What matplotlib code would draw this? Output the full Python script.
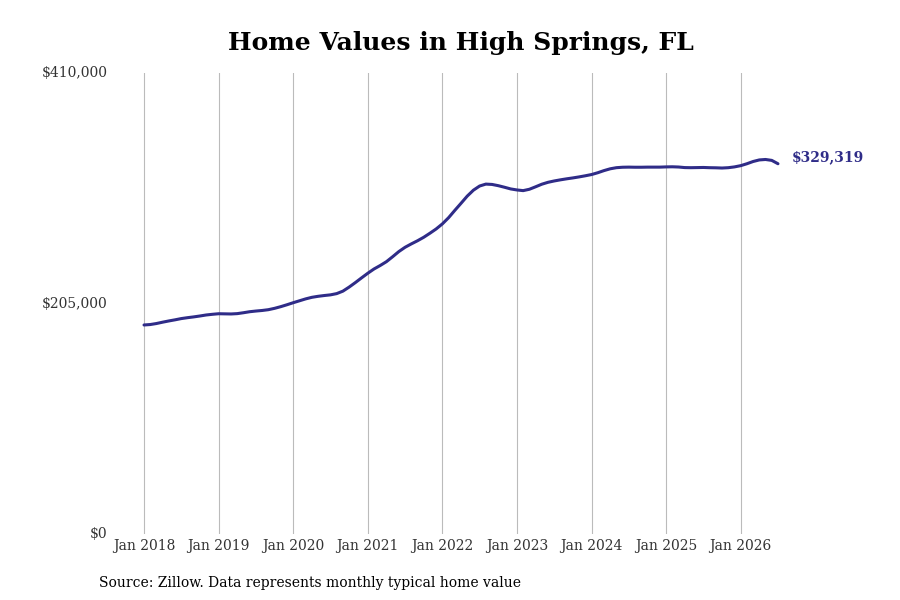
import matplotlib
matplotlib.use("Agg")
import matplotlib.pyplot as plt

plt.rcParams['font.family'] = ['DejaVu Serif']

tick_labels = ["Jan 2018", "Jan 2019", "Jan 2020", "Jan 2021", "Jan 2022",
               "Jan 2023", "Jan 2024", "Jan 2025", "Jan 2026"]
y_ticks = [0, 205000, 410000]
y_tick_labels = ["$0", "$205,000", "$410,000"]

# Monthly typical home value, Jan 2018 .. Jul 2026
values = [
    185900, 186300, 187200, 188400, 189500, 190500, 191600, 192400, 193100, 193900, 194800, 195400,
    195900, 195800, 195700, 196000, 196800, 197700, 198300, 198800, 199500, 200700, 202200, 203900,
    205700, 207400, 209100, 210500, 211400, 212100, 212700, 213800, 216000, 219600, 223600, 227800,
    231900, 235700, 238800, 242200, 246600, 251200, 255000, 258000, 260800, 263900, 267500, 271300,
    275800, 281300, 287800, 294100, 300500, 305800, 309500, 311200, 310900, 309800, 308400, 306900,
    306000, 305400, 306600, 308800, 311100, 312800, 314000, 315000, 315900, 316700, 317600, 318600,
    319700, 321300, 323200, 324800, 325800, 326200, 326300, 326200, 326200, 326300, 326300, 326300,
    326500, 326600, 326400, 325900, 325800, 325900, 326000, 325800, 325700, 325500, 325800, 326500,
    327600, 329300, 331300, 332700, 333100, 332300, 329319,
]
end_label = "$329,319"

color = "#2f2c88"

fig = plt.figure(figsize=(9, 6), dpi=100)
ax = fig.add_axes([0.1256, 0.11, 0.754, 0.7683])

months = list(range(len(values)))
ax.plot(months, values, color=color, linewidth=2.2, solid_capstyle='round')

px_per_month = (741 - 144) / 96.0
ax.set_xlim(-(144 - 113) / px_per_month, (792 - 144) / px_per_month)
ax.set_ylim(0, 410000)

ax.set_xticks([12 * i for i in range(len(tick_labels))])
ax.set_xticklabels(tick_labels, fontsize=10, color="#333333")
ax.set_yticks(y_ticks)
ax.set_yticklabels(y_tick_labels, fontsize=10, color="#333333")
ax.tick_params(axis='x', length=0, pad=3.5)
ax.tick_params(axis='y', length=0, pad=4)
for lbl in ax.get_yticklabels():
    lbl.set_verticalalignment('center')

ax.grid(axis='x', color="#bbbbbb", linewidth=0.8)
ax.grid(axis='y', visible=False)
for s in ax.spines.values():
    s.set_visible(False)

ax.annotate(end_label, xy=(months[-1], values[-1]), xytext=(10, 4.5),
            textcoords='offset points', color=color, fontsize=10,
            fontweight='bold', va='center', ha='left', annotation_clip=False)

fig.text(0.512, 0.928, "Home Values in High Springs, FL", ha='center', va='center',
         fontsize=18, fontweight='bold', color='black')
fig.text(0.11, 0.029, "Source: Zillow. Data represents monthly typical home value",
         ha='left', va='center', fontsize=10, color='black')

fig.savefig("out.png", dpi=100)
